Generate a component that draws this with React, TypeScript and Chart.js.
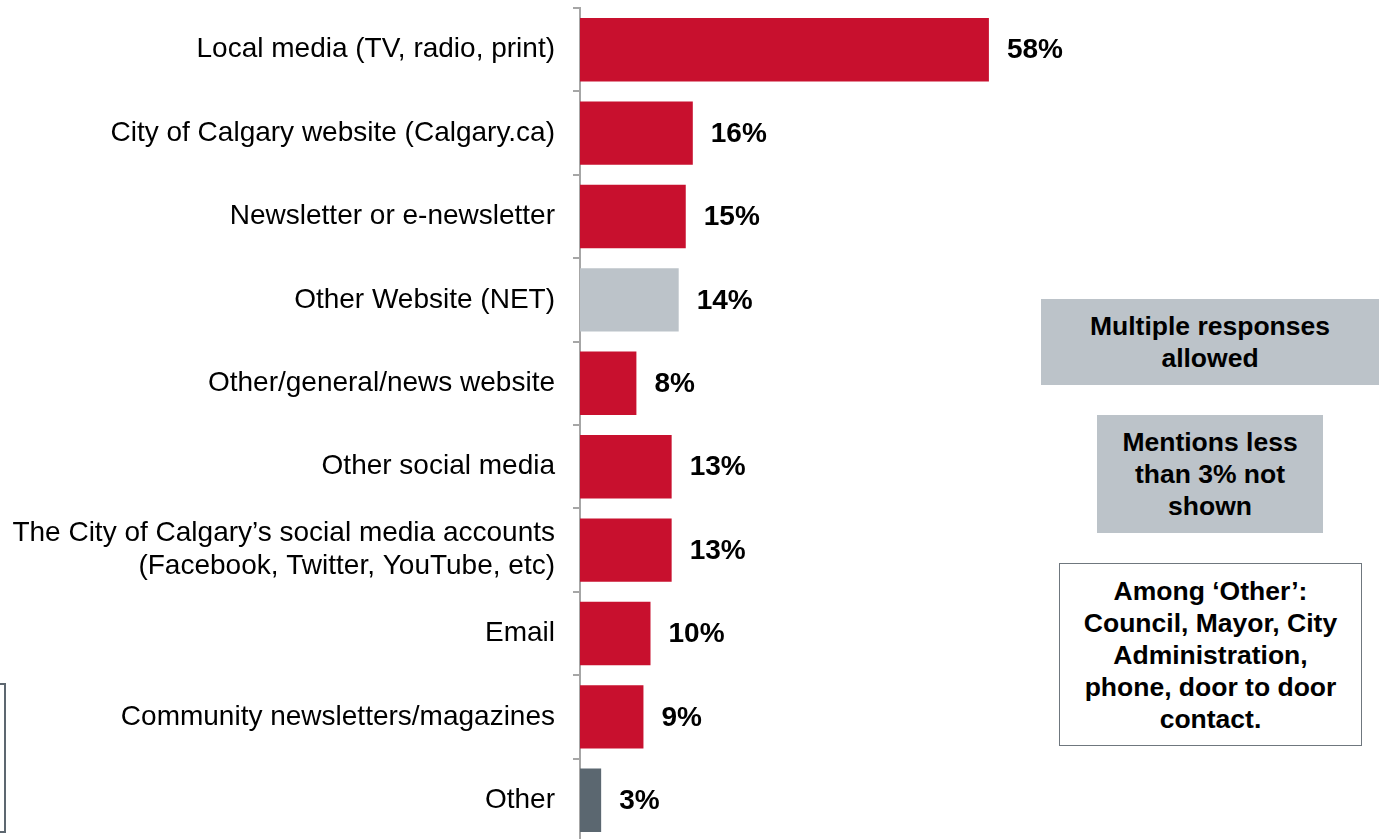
import React, { useEffect, useRef } from "react";
import { Chart, registerables } from "chart.js";

Chart.register(...registerables);

const categories: (string | string[])[] = [
  "Local media (TV, radio, print)",
  "City of Calgary website (Calgary.ca)",
  "Newsletter or e-newsletter",
  "Other Website (NET)",
  "Other/general/news website",
  "Other social media",
  ["The City of Calgary’s social media accounts", "(Facebook, Twitter, YouTube, etc)"],
  "Email",
  "Community newsletters/magazines",
  "Other",
];
const values = [58, 16, 15, 14, 8, 13, 13, 10, 9, 3];
const RED = "#c8102e";
const LIGHT = "#bcc3c9";
const DARK = "#5b6770";
const barColors = [RED, RED, RED, LIGHT, RED, RED, RED, RED, RED, DARK];

const FONT = "'Liberation Sans', Arial, sans-serif";

const valueLabels = {
  id: "valueLabels",
  afterDatasetsDraw(chart: any) {
    const ctx = chart.ctx;
    const meta = chart.getDatasetMeta(0);
    ctx.save();
    ctx.font = `bold 28px ${FONT}`;
    ctx.fillStyle = "#000";
    ctx.textAlign = "left";
    ctx.textBaseline = "middle";
    meta.data.forEach((bar: any, i: number) => {
      ctx.fillText(`${values[i]}%`, bar.x + 18, bar.y + 1);
    });
    ctx.restore();
  },
};

export default function App() {
  const ref = useRef<HTMLCanvasElement>(null);
  useEffect(() => {
    if (!ref.current) return;
    const chart = new Chart(ref.current, {
      type: "bar",
      data: {
        labels: categories,
        datasets: [
          {
            data: values,
            backgroundColor: barColors,
            borderWidth: 0,
            categoryPercentage: 1,
            barPercentage: 0.76,
          },
        ],
      },
      options: {
        indexAxis: "y",
        animation: false,
        responsive: false,
        maintainAspectRatio: false,
        layout: { padding: { top: 8, bottom: 8, left: 0, right: 97 } },
        plugins: { legend: { display: false }, tooltip: { enabled: false } },
        scales: {
          x: { display: false, min: 0, max: 100 },
          y: {
            afterFit(scale: any) {
              scale.width = 580;
              scale.paddingTop = 0;
              scale.paddingBottom = 0;
            },
            grid: {
              display: true,
              offset: true,
              drawOnChartArea: false,
              tickLength: 7,
              color: "#a6a6a6",
              lineWidth: 2,
            },
            border: { display: true, color: "#a6a6a6", width: 2 },
            ticks: {
              padding: 18,
              color: "#000",
              font: { family: FONT, size: 28, lineHeight: 1.18 },
            },
          },
        },
      },
      plugins: [valueLabels],
    });
    return () => chart.destroy();
  }, []);

  const boxText: React.CSSProperties = {
    position: "absolute",
    display: "flex",
    alignItems: "center",
    justifyContent: "center",
    textAlign: "center",
    fontFamily: FONT,
    fontWeight: "bold",
    fontSize: 26.5,
    lineHeight: "32px",
    color: "#000",
    boxSizing: "border-box",
  };

  return (
    <div
      style={{
        position: "fixed",
        left: 0,
        top: 0,
        width: 1382,
        height: 839,
        overflow: "hidden",
        background: "#fff",
      }}
    >
      <canvas ref={ref} width={1382} height={850} style={{ position: "absolute", left: 0, top: 0 }} />
      <div
        style={{
          position: "absolute",
          left: -200,
          top: 683,
          width: 206,
          height: 150,
          border: "2px solid #5d6770",
          boxSizing: "border-box",
        }}
      />
      <div style={{ ...boxText, left: 1041, top: 299, width: 338, height: 86, background: LIGHT }}>
        Multiple responses
        <br />
        allowed
      </div>
      <div style={{ ...boxText, left: 1097, top: 415, width: 226, height: 118, background: LIGHT }}>
        Mentions less
        <br />
        than 3% not
        <br />
        shown
      </div>
      <div
        style={{
          ...boxText,
          left: 1059,
          top: 563,
          width: 303,
          height: 183,
          background: "#fff",
          border: "1.5px solid #6f777e",
        }}
      >
        Among ‘Other’:
        <br />
        Council, Mayor, City
        <br />
        Administration,
        <br />
        phone, door to door
        <br />
        contact.
      </div>
    </div>
  );
}
